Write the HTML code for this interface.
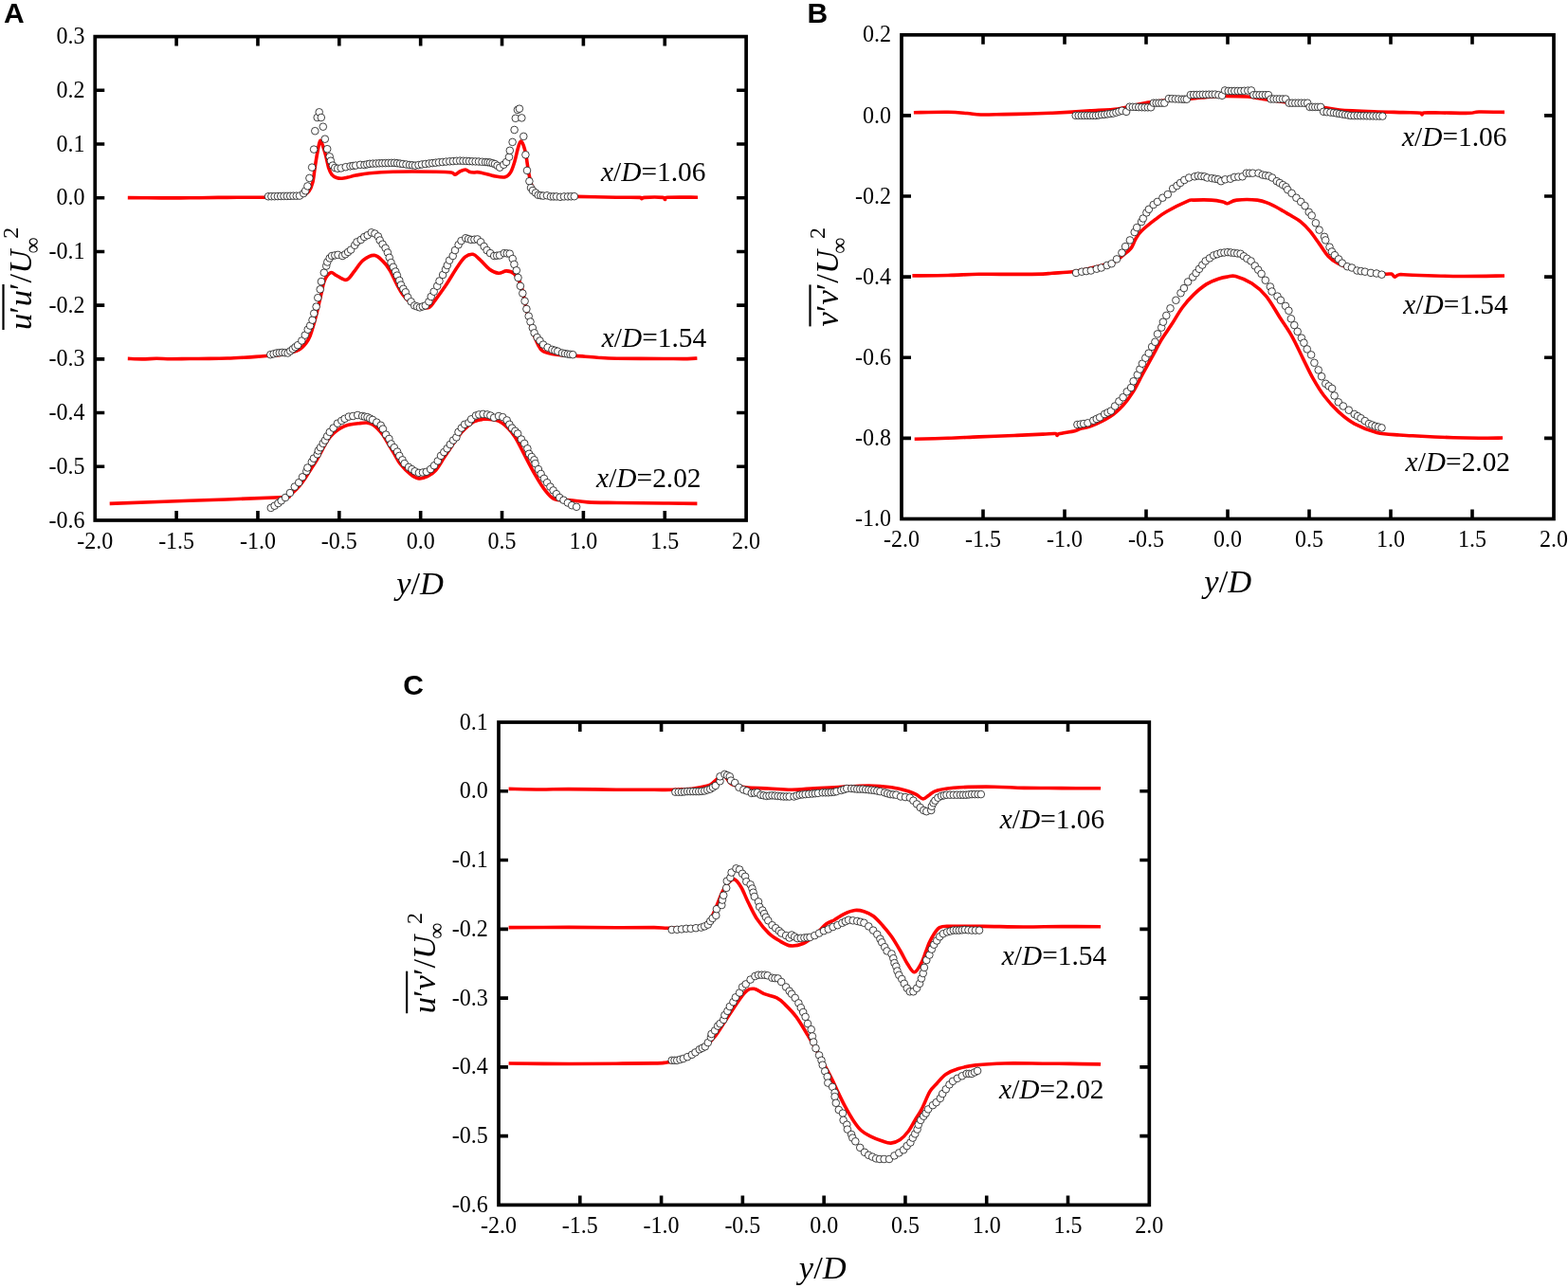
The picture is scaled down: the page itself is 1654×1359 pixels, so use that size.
<!DOCTYPE html>
<html><head><meta charset="utf-8"><title>Figure</title><style>
html,body{margin:0;padding:0;background:#fff;}
body{width:1654px;height:1359px;overflow:hidden;}
svg{display:block;}
circle{fill:#fff;stroke:#111;stroke-width:0.8;}
.tk{font-family:'Liberation Serif', 'Times New Roman', serif;font-size:24px;fill:#000;}
.ann{font-family:'Liberation Serif', 'Times New Roman', serif;font-size:29.4px;fill:#000;}
.lab{font-family:'Liberation Serif', 'Times New Roman', serif;font-size:34.5px;fill:#000;}
.sub{font-size:24px;}
.sup{font-size:24px;}
.let{font-family:'Liberation Sans', Arial, sans-serif;font-weight:bold;font-size:30px;fill:#000;}
</style></head><body>
<svg width="1654" height="1359" viewBox="0 0 1654 1359">
<rect x="0" y="0" width="1654" height="1359" fill="#fff"/>
<path d="M134.80,208.60 C140.67,208.65 159.13,208.87 170.00,208.90 C180.87,208.93 190.00,208.88 200.00,208.80 C210.00,208.72 221.67,208.48 230.00,208.40 C238.33,208.32 241.17,208.32 250.00,208.30 C258.83,208.28 273.83,208.35 283.00,208.30 C292.17,208.25 299.83,208.18 305.00,208.00 C310.17,207.82 311.50,207.57 314.00,207.20 C316.50,206.83 318.03,206.67 320.00,205.80 C321.97,204.93 324.15,204.23 325.80,202.00 C327.45,199.77 328.82,196.70 329.90,192.40 C330.98,188.10 331.50,181.33 332.30,176.20 C333.10,171.07 333.82,166.18 334.70,161.60 C335.58,157.02 336.65,150.05 337.60,148.70 C338.55,147.35 339.40,150.95 340.40,153.50 C341.40,156.05 342.52,159.95 343.60,164.00 C344.68,168.05 345.82,174.42 346.90,177.80 C347.98,181.18 348.75,182.68 350.10,184.30 C351.45,185.92 353.25,186.83 355.00,187.50 C356.75,188.17 358.60,188.37 360.60,188.30 C362.60,188.23 364.57,187.63 367.00,187.10 C369.43,186.57 371.42,185.83 375.20,185.10 C378.98,184.37 383.10,183.35 389.70,182.70 C396.30,182.05 403.12,181.45 414.80,181.20 C426.48,180.95 449.60,181.07 459.80,181.20 C470.00,181.33 472.62,181.52 476.00,182.00 C479.38,182.48 478.60,184.27 480.10,184.10 C481.60,183.93 483.18,181.85 485.00,181.00 C486.82,180.15 489.33,178.97 491.00,179.00 C492.67,179.03 493.50,180.70 495.00,181.20 C496.50,181.70 498.13,181.88 500.00,182.00 C501.87,182.12 502.47,181.23 506.20,181.90 C509.93,182.57 517.95,185.18 522.40,186.00 C526.85,186.82 530.20,187.48 532.90,186.80 C535.60,186.12 536.98,184.47 538.60,181.90 C540.22,179.33 541.25,175.85 542.60,171.40 C543.95,166.95 545.55,158.92 546.70,155.20 C547.85,151.48 548.57,149.37 549.50,149.10 C550.43,148.83 551.42,151.23 552.30,153.60 C553.18,155.97 553.98,158.98 554.80,163.30 C555.62,167.62 556.53,175.45 557.20,179.50 C557.87,183.55 558.12,184.77 558.80,187.60 C559.48,190.43 559.95,193.80 561.30,196.50 C562.65,199.20 564.62,202.05 566.90,203.80 C569.18,205.55 568.25,206.40 575.00,207.00 C581.75,207.60 594.90,207.20 607.40,207.40 C619.90,207.60 638.73,208.03 650.00,208.20 C661.27,208.37 670.50,208.13 675.00,208.40 C679.50,208.67 676.17,209.80 677.00,209.80 C677.83,209.80 676.33,208.63 680.00,208.40 C683.67,208.17 695.42,208.05 699.00,208.40 C702.58,208.75 700.67,210.52 701.50,210.50 C702.33,210.48 698.25,208.68 704.00,208.30 C709.75,207.92 730.67,208.22 736.00,208.20" fill="none" stroke="#ff0000" stroke-width="3.6" stroke-linejoin="round" stroke-linecap="butt"/>
<path d="M134.80,378.40 C137.33,378.48 144.97,378.92 150.00,378.90 C155.03,378.88 160.00,378.33 165.00,378.30 C170.00,378.27 174.17,378.67 180.00,378.70 C185.83,378.73 193.17,378.55 200.00,378.50 C206.83,378.45 214.33,378.48 221.00,378.40 C227.67,378.32 234.00,378.20 240.00,378.00 C246.00,377.80 252.00,377.47 257.00,377.20 C262.00,376.93 265.53,376.72 270.00,376.40 C274.47,376.08 279.88,375.57 283.80,375.30 C287.72,375.03 289.97,375.27 293.50,374.80 C297.03,374.33 301.27,373.48 305.00,372.50 C308.73,371.52 312.52,371.27 315.90,368.90 C319.28,366.53 322.95,362.22 325.30,358.30 C327.65,354.38 328.52,350.10 330.00,345.40 C331.48,340.70 332.82,335.60 334.20,330.10 C335.58,324.60 336.93,318.10 338.30,312.40 C339.67,306.70 340.63,300.02 342.40,295.90 C344.17,291.78 346.83,288.58 348.90,287.70 C350.97,286.82 352.05,289.33 354.80,290.60 C357.55,291.87 362.27,295.98 365.40,295.30 C368.53,294.62 370.67,289.93 373.60,286.50 C376.53,283.07 379.47,277.55 383.00,274.70 C386.53,271.85 391.27,269.20 394.80,269.40 C398.33,269.60 401.45,273.25 404.20,275.90 C406.95,278.55 408.95,281.37 411.30,285.30 C413.65,289.23 416.02,295.22 418.30,299.50 C420.58,303.78 422.72,307.83 425.00,311.00 C427.28,314.17 429.50,316.42 432.00,318.50 C434.50,320.58 437.67,322.45 440.00,323.50 C442.33,324.55 443.83,324.68 446.00,324.80 C448.17,324.92 450.87,325.48 453.00,324.20 C455.13,322.92 455.87,321.03 458.80,317.10 C461.73,313.17 466.67,306.48 470.60,300.60 C474.53,294.72 479.07,286.70 482.40,281.80 C485.73,276.90 487.85,273.45 490.60,271.20 C493.35,268.95 496.35,267.90 498.90,268.30 C501.45,268.70 502.97,270.95 505.90,273.60 C508.83,276.25 513.17,281.75 516.50,284.20 C519.83,286.65 522.95,288.02 525.90,288.30 C528.85,288.58 531.45,285.80 534.20,285.90 C536.95,286.00 539.85,286.45 542.40,288.90 C544.95,291.35 547.33,294.33 549.50,300.60 C551.67,306.87 553.43,318.65 555.40,326.50 C557.37,334.35 559.33,341.62 561.30,347.70 C563.27,353.78 565.25,359.17 567.20,363.00 C569.15,366.83 569.67,368.83 573.00,370.70 C576.33,372.57 581.50,373.42 587.20,374.20 C592.90,374.98 600.07,374.90 607.20,375.40 C614.33,375.90 622.73,376.73 630.00,377.20 C637.27,377.67 639.13,377.98 650.80,378.20 C662.47,378.42 687.63,378.43 700.00,378.50 C712.37,378.57 719.10,378.68 725.00,378.60 C730.90,378.52 733.67,378.10 735.40,378.00" fill="none" stroke="#ff0000" stroke-width="3.6" stroke-linejoin="round" stroke-linecap="butt"/>
<path d="M115.70,531.40 C129.75,530.88 169.97,529.40 200.00,528.30 C230.03,527.20 278.73,525.60 295.90,524.80 C313.07,524.00 300.82,524.38 303.00,523.50 C305.18,522.62 306.83,521.33 309.00,519.50 C311.17,517.67 313.83,515.00 316.00,512.50 C318.17,510.00 320.00,507.42 322.00,504.50 C324.00,501.58 326.00,498.17 328.00,495.00 C330.00,491.83 332.00,488.92 334.00,485.50 C336.00,482.08 338.00,478.08 340.00,474.50 C342.00,470.92 344.07,466.83 346.00,464.00 C347.93,461.17 349.60,459.42 351.60,457.50 C353.60,455.58 355.63,453.95 358.00,452.50 C360.37,451.05 362.33,449.77 365.80,448.80 C369.27,447.83 375.18,447.15 378.80,446.70 C382.42,446.25 385.13,445.88 387.50,446.10 C389.87,446.32 391.18,446.92 393.00,448.00 C394.82,449.08 396.57,450.77 398.40,452.60 C400.23,454.43 402.18,456.45 404.00,459.00 C405.82,461.55 407.30,464.57 409.30,467.90 C411.30,471.23 413.82,475.38 416.00,479.00 C418.18,482.62 419.53,486.02 422.40,489.60 C425.27,493.18 429.95,497.95 433.20,500.50 C436.45,503.05 438.95,504.53 441.90,504.90 C444.85,505.27 447.95,504.15 450.90,502.70 C453.85,501.25 456.70,499.47 459.60,496.20 C462.50,492.93 465.57,487.22 468.30,483.10 C471.03,478.98 473.47,475.30 476.00,471.50 C478.53,467.70 481.00,463.55 483.50,460.30 C486.00,457.05 488.27,454.55 491.00,452.00 C493.73,449.45 496.62,446.62 499.90,445.00 C503.18,443.38 506.53,442.48 510.70,442.30 C514.87,442.12 520.72,442.35 524.90,443.90 C529.08,445.45 532.72,448.68 535.80,451.60 C538.88,454.52 540.68,457.05 543.40,461.40 C546.12,465.75 548.83,471.53 552.10,477.70 C555.37,483.87 559.37,492.05 563.00,498.40 C566.63,504.75 570.28,511.10 573.90,515.80 C577.52,520.50 580.17,524.62 584.70,526.60 C589.23,528.58 595.22,527.15 601.10,527.70 C606.98,528.25 611.72,529.43 620.00,529.90 C628.28,530.37 637.47,530.32 650.80,530.50 C664.13,530.68 685.90,530.85 700.00,531.00 C714.10,531.15 729.50,531.33 735.40,531.40" fill="none" stroke="#ff0000" stroke-width="3.6" stroke-linejoin="round" stroke-linecap="butt"/>
<circle cx="283.0" cy="207.3" r="3.8"/>
<circle cx="286.3" cy="207.2" r="3.8"/>
<circle cx="289.6" cy="207.2" r="3.8"/>
<circle cx="292.9" cy="207.1" r="3.8"/>
<circle cx="296.2" cy="207.0" r="3.8"/>
<circle cx="299.5" cy="206.9" r="3.8"/>
<circle cx="302.8" cy="206.9" r="3.8"/>
<circle cx="306.1" cy="206.8" r="3.8"/>
<circle cx="309.4" cy="206.7" r="3.8"/>
<circle cx="312.7" cy="206.7" r="3.8"/>
<circle cx="316.0" cy="206.6" r="3.8"/>
<circle cx="320.2" cy="204.1" r="3.8"/>
<circle cx="322.2" cy="201.3" r="3.8"/>
<circle cx="324.4" cy="196.4" r="3.8"/>
<circle cx="326.4" cy="187.9" r="3.8"/>
<circle cx="329.1" cy="176.6" r="3.8"/>
<circle cx="331.1" cy="157.6" r="3.8"/>
<circle cx="332.3" cy="138.2" r="3.8"/>
<circle cx="334.7" cy="124.0" r="3.8"/>
<circle cx="336.7" cy="118.3" r="3.8"/>
<circle cx="338.8" cy="124.0" r="3.8"/>
<circle cx="340.8" cy="133.7" r="3.8"/>
<circle cx="342.8" cy="146.7" r="3.8"/>
<circle cx="345.2" cy="157.2" r="3.8"/>
<circle cx="347.7" cy="165.3" r="3.8"/>
<circle cx="348.9" cy="169.7" r="3.8"/>
<circle cx="350.9" cy="174.6" r="3.8"/>
<circle cx="353.3" cy="177.0" r="3.8"/>
<circle cx="356.2" cy="177.8" r="3.8"/>
<circle cx="359.8" cy="177.4" r="3.8"/>
<circle cx="364.7" cy="176.2" r="3.8"/>
<circle cx="369.5" cy="175.4" r="3.8"/>
<circle cx="372.4" cy="175.0" r="3.8"/>
<circle cx="375.2" cy="174.6" r="3.8"/>
<circle cx="380.0" cy="173.8" r="3.8"/>
<circle cx="384.4" cy="174.0" r="3.8"/>
<circle cx="387.2" cy="173.4" r="3.8"/>
<circle cx="390.0" cy="172.8" r="3.8"/>
<circle cx="393.3" cy="172.6" r="3.8"/>
<circle cx="396.7" cy="172.5" r="3.8"/>
<circle cx="400.0" cy="172.3" r="3.8"/>
<circle cx="403.2" cy="172.2" r="3.8"/>
<circle cx="406.4" cy="172.1" r="3.8"/>
<circle cx="409.6" cy="172.0" r="3.8"/>
<circle cx="412.8" cy="171.9" r="3.8"/>
<circle cx="416.0" cy="171.8" r="3.8"/>
<circle cx="419.0" cy="172.2" r="3.8"/>
<circle cx="422.0" cy="172.6" r="3.8"/>
<circle cx="425.0" cy="173.0" r="3.8"/>
<circle cx="428.5" cy="173.5" r="3.8"/>
<circle cx="432.0" cy="174.0" r="3.8"/>
<circle cx="435.0" cy="174.3" r="3.8"/>
<circle cx="438.0" cy="174.7" r="3.8"/>
<circle cx="441.5" cy="174.1" r="3.8"/>
<circle cx="445.0" cy="173.5" r="3.8"/>
<circle cx="448.8" cy="173.0" r="3.8"/>
<circle cx="452.6" cy="172.5" r="3.8"/>
<circle cx="456.1" cy="172.1" r="3.8"/>
<circle cx="459.5" cy="171.7" r="3.8"/>
<circle cx="463.0" cy="171.3" r="3.8"/>
<circle cx="466.8" cy="171.0" r="3.8"/>
<circle cx="470.5" cy="170.6" r="3.8"/>
<circle cx="474.3" cy="170.3" r="3.8"/>
<circle cx="477.9" cy="170.1" r="3.8"/>
<circle cx="481.6" cy="169.8" r="3.8"/>
<circle cx="485.2" cy="169.6" r="3.8"/>
<circle cx="488.5" cy="169.8" r="3.8"/>
<circle cx="491.8" cy="169.9" r="3.8"/>
<circle cx="495.0" cy="170.1" r="3.8"/>
<circle cx="498.3" cy="170.3" r="3.8"/>
<circle cx="501.6" cy="170.4" r="3.8"/>
<circle cx="505.0" cy="170.5" r="3.8"/>
<circle cx="508.5" cy="170.8" r="3.8"/>
<circle cx="512.0" cy="171.0" r="3.8"/>
<circle cx="514.5" cy="171.2" r="3.8"/>
<circle cx="517.0" cy="171.5" r="3.8"/>
<circle cx="519.5" cy="172.2" r="3.8"/>
<circle cx="522.0" cy="173.0" r="3.8"/>
<circle cx="524.6" cy="174.8" r="3.8"/>
<circle cx="527.2" cy="176.7" r="3.8"/>
<circle cx="531.3" cy="173.8" r="3.8"/>
<circle cx="534.1" cy="171.0" r="3.8"/>
<circle cx="537.0" cy="165.7" r="3.8"/>
<circle cx="537.8" cy="158.8" r="3.8"/>
<circle cx="540.6" cy="149.9" r="3.8"/>
<circle cx="542.6" cy="137.0" r="3.8"/>
<circle cx="543.8" cy="124.8" r="3.8"/>
<circle cx="545.9" cy="115.9" r="3.8"/>
<circle cx="547.9" cy="114.7" r="3.8"/>
<circle cx="550.3" cy="124.4" r="3.8"/>
<circle cx="552.3" cy="143.9" r="3.8"/>
<circle cx="554.4" cy="163.3" r="3.8"/>
<circle cx="556.0" cy="179.9" r="3.8"/>
<circle cx="558.4" cy="191.2" r="3.8"/>
<circle cx="560.0" cy="198.1" r="3.8"/>
<circle cx="562.0" cy="201.0" r="3.8"/>
<circle cx="565.0" cy="203.5" r="3.8"/>
<circle cx="567.7" cy="205.8" r="3.8"/>
<circle cx="570.4" cy="206.2" r="3.8"/>
<circle cx="573.0" cy="206.6" r="3.8"/>
<circle cx="577.0" cy="206.3" r="3.8"/>
<circle cx="581.0" cy="207.4" r="3.8"/>
<circle cx="584.0" cy="207.4" r="3.8"/>
<circle cx="587.0" cy="207.4" r="3.8"/>
<circle cx="591.0" cy="207.8" r="3.8"/>
<circle cx="595.0" cy="207.4" r="3.8"/>
<circle cx="599.0" cy="207.4" r="3.8"/>
<circle cx="602.4" cy="207.3" r="3.8"/>
<circle cx="605.8" cy="207.2" r="3.8"/>
<circle cx="285.3" cy="374.2" r="3.8"/>
<circle cx="288.6" cy="373.4" r="3.8"/>
<circle cx="291.8" cy="372.5" r="3.8"/>
<circle cx="294.8" cy="372.2" r="3.8"/>
<circle cx="297.7" cy="371.9" r="3.8"/>
<circle cx="300.6" cy="372.2" r="3.8"/>
<circle cx="303.6" cy="372.5" r="3.8"/>
<circle cx="306.2" cy="370.4" r="3.8"/>
<circle cx="308.9" cy="368.3" r="3.8"/>
<circle cx="311.5" cy="366.2" r="3.8"/>
<circle cx="314.1" cy="364.2" r="3.8"/>
<circle cx="318.3" cy="359.5" r="3.8"/>
<circle cx="321.8" cy="353.6" r="3.8"/>
<circle cx="324.7" cy="347.7" r="3.8"/>
<circle cx="327.1" cy="343.6" r="3.8"/>
<circle cx="329.5" cy="337.7" r="3.8"/>
<circle cx="331.2" cy="330.7" r="3.8"/>
<circle cx="333.6" cy="323.6" r="3.8"/>
<circle cx="335.3" cy="314.2" r="3.8"/>
<circle cx="337.7" cy="305.3" r="3.8"/>
<circle cx="338.9" cy="297.1" r="3.8"/>
<circle cx="341.8" cy="287.7" r="3.8"/>
<circle cx="344.2" cy="280.6" r="3.8"/>
<circle cx="345.3" cy="276.5" r="3.8"/>
<circle cx="347.7" cy="272.4" r="3.8"/>
<circle cx="350.1" cy="270.0" r="3.8"/>
<circle cx="353.3" cy="269.4" r="3.8"/>
<circle cx="356.5" cy="268.9" r="3.8"/>
<circle cx="361.2" cy="270.0" r="3.8"/>
<circle cx="364.2" cy="268.3" r="3.8"/>
<circle cx="367.1" cy="266.0" r="3.8"/>
<circle cx="370.1" cy="263.6" r="3.8"/>
<circle cx="374.2" cy="258.8" r="3.8"/>
<circle cx="376.5" cy="255.3" r="3.8"/>
<circle cx="380.7" cy="253.0" r="3.8"/>
<circle cx="384.2" cy="250.0" r="3.8"/>
<circle cx="387.7" cy="248.2" r="3.8"/>
<circle cx="391.8" cy="245.3" r="3.8"/>
<circle cx="395.4" cy="246.5" r="3.8"/>
<circle cx="398.9" cy="249.4" r="3.8"/>
<circle cx="400.7" cy="253.5" r="3.8"/>
<circle cx="403.6" cy="257.7" r="3.8"/>
<circle cx="406.6" cy="261.8" r="3.8"/>
<circle cx="408.9" cy="266.5" r="3.8"/>
<circle cx="410.7" cy="271.8" r="3.8"/>
<circle cx="412.5" cy="277.1" r="3.8"/>
<circle cx="414.8" cy="281.8" r="3.8"/>
<circle cx="417.2" cy="286.5" r="3.8"/>
<circle cx="418.9" cy="290.6" r="3.8"/>
<circle cx="421.3" cy="295.9" r="3.8"/>
<circle cx="423.0" cy="300.6" r="3.8"/>
<circle cx="425.4" cy="304.8" r="3.8"/>
<circle cx="427.8" cy="308.3" r="3.8"/>
<circle cx="430.1" cy="313.6" r="3.8"/>
<circle cx="433.6" cy="318.3" r="3.8"/>
<circle cx="437.2" cy="322.4" r="3.8"/>
<circle cx="440.0" cy="323.4" r="3.8"/>
<circle cx="442.9" cy="324.4" r="3.8"/>
<circle cx="445.9" cy="323.4" r="3.8"/>
<circle cx="448.8" cy="322.4" r="3.8"/>
<circle cx="452.4" cy="318.3" r="3.8"/>
<circle cx="454.7" cy="313.0" r="3.8"/>
<circle cx="457.7" cy="307.7" r="3.8"/>
<circle cx="461.2" cy="301.8" r="3.8"/>
<circle cx="463.5" cy="296.5" r="3.8"/>
<circle cx="467.1" cy="290.0" r="3.8"/>
<circle cx="470.0" cy="284.2" r="3.8"/>
<circle cx="471.8" cy="280.0" r="3.8"/>
<circle cx="474.1" cy="274.7" r="3.8"/>
<circle cx="477.7" cy="270.0" r="3.8"/>
<circle cx="480.0" cy="264.1" r="3.8"/>
<circle cx="483.6" cy="258.3" r="3.8"/>
<circle cx="486.5" cy="254.1" r="3.8"/>
<circle cx="491.2" cy="251.2" r="3.8"/>
<circle cx="494.1" cy="252.1" r="3.8"/>
<circle cx="497.1" cy="253.0" r="3.8"/>
<circle cx="500.4" cy="252.7" r="3.8"/>
<circle cx="503.6" cy="252.4" r="3.8"/>
<circle cx="507.1" cy="255.3" r="3.8"/>
<circle cx="510.6" cy="260.0" r="3.8"/>
<circle cx="513.6" cy="264.1" r="3.8"/>
<circle cx="517.1" cy="267.1" r="3.8"/>
<circle cx="521.2" cy="270.0" r="3.8"/>
<circle cx="524.2" cy="269.7" r="3.8"/>
<circle cx="527.1" cy="269.4" r="3.8"/>
<circle cx="531.8" cy="267.1" r="3.8"/>
<circle cx="534.8" cy="267.4" r="3.8"/>
<circle cx="537.7" cy="267.7" r="3.8"/>
<circle cx="540.7" cy="273.0" r="3.8"/>
<circle cx="542.4" cy="278.9" r="3.8"/>
<circle cx="544.8" cy="285.3" r="3.8"/>
<circle cx="546.5" cy="293.0" r="3.8"/>
<circle cx="548.9" cy="301.8" r="3.8"/>
<circle cx="551.3" cy="309.5" r="3.8"/>
<circle cx="553.6" cy="317.7" r="3.8"/>
<circle cx="555.4" cy="326.0" r="3.8"/>
<circle cx="557.7" cy="333.6" r="3.8"/>
<circle cx="559.5" cy="339.5" r="3.8"/>
<circle cx="561.8" cy="346.0" r="3.8"/>
<circle cx="563.6" cy="351.3" r="3.8"/>
<circle cx="566.6" cy="356.0" r="3.8"/>
<circle cx="569.5" cy="359.5" r="3.8"/>
<circle cx="573.0" cy="363.6" r="3.8"/>
<circle cx="577.7" cy="366.6" r="3.8"/>
<circle cx="582.5" cy="368.9" r="3.8"/>
<circle cx="585.4" cy="369.8" r="3.8"/>
<circle cx="588.3" cy="370.7" r="3.8"/>
<circle cx="593.0" cy="372.5" r="3.8"/>
<circle cx="596.0" cy="373.1" r="3.8"/>
<circle cx="598.9" cy="373.6" r="3.8"/>
<circle cx="601.5" cy="373.9" r="3.8"/>
<circle cx="604.2" cy="374.2" r="3.8"/>
<circle cx="285.8" cy="535.9" r="3.8"/>
<circle cx="289.6" cy="533.7" r="3.8"/>
<circle cx="293.4" cy="531.0" r="3.8"/>
<circle cx="296.7" cy="528.3" r="3.8"/>
<circle cx="301.0" cy="525.0" r="3.8"/>
<circle cx="305.9" cy="520.1" r="3.8"/>
<circle cx="310.8" cy="513.6" r="3.8"/>
<circle cx="315.2" cy="509.2" r="3.8"/>
<circle cx="319.0" cy="503.3" r="3.8"/>
<circle cx="323.3" cy="497.3" r="3.8"/>
<circle cx="324.4" cy="493.5" r="3.8"/>
<circle cx="328.8" cy="487.5" r="3.8"/>
<circle cx="330.9" cy="483.7" r="3.8"/>
<circle cx="334.8" cy="479.3" r="3.8"/>
<circle cx="335.8" cy="475.5" r="3.8"/>
<circle cx="338.0" cy="472.2" r="3.8"/>
<circle cx="340.7" cy="467.9" r="3.8"/>
<circle cx="342.9" cy="464.6" r="3.8"/>
<circle cx="345.1" cy="460.3" r="3.8"/>
<circle cx="347.8" cy="455.9" r="3.8"/>
<circle cx="351.6" cy="451.6" r="3.8"/>
<circle cx="356.0" cy="446.7" r="3.8"/>
<circle cx="360.3" cy="443.9" r="3.8"/>
<circle cx="363.6" cy="441.8" r="3.8"/>
<circle cx="367.9" cy="439.6" r="3.8"/>
<circle cx="372.3" cy="439.0" r="3.8"/>
<circle cx="377.2" cy="438.0" r="3.8"/>
<circle cx="382.1" cy="439.0" r="3.8"/>
<circle cx="384.8" cy="439.6" r="3.8"/>
<circle cx="387.5" cy="440.1" r="3.8"/>
<circle cx="390.2" cy="441.5" r="3.8"/>
<circle cx="393.0" cy="442.9" r="3.8"/>
<circle cx="397.3" cy="445.6" r="3.8"/>
<circle cx="401.7" cy="448.8" r="3.8"/>
<circle cx="403.9" cy="452.6" r="3.8"/>
<circle cx="407.1" cy="458.6" r="3.8"/>
<circle cx="410.4" cy="463.0" r="3.8"/>
<circle cx="412.6" cy="468.4" r="3.8"/>
<circle cx="415.8" cy="472.2" r="3.8"/>
<circle cx="419.1" cy="476.6" r="3.8"/>
<circle cx="421.3" cy="480.9" r="3.8"/>
<circle cx="424.5" cy="485.3" r="3.8"/>
<circle cx="426.7" cy="489.1" r="3.8"/>
<circle cx="431.1" cy="492.9" r="3.8"/>
<circle cx="434.4" cy="495.1" r="3.8"/>
<circle cx="437.6" cy="497.3" r="3.8"/>
<circle cx="441.9" cy="498.9" r="3.8"/>
<circle cx="446.0" cy="498.5" r="3.8"/>
<circle cx="449.8" cy="497.8" r="3.8"/>
<circle cx="454.1" cy="495.1" r="3.8"/>
<circle cx="458.0" cy="491.3" r="3.8"/>
<circle cx="461.8" cy="486.4" r="3.8"/>
<circle cx="465.0" cy="480.9" r="3.8"/>
<circle cx="468.3" cy="477.1" r="3.8"/>
<circle cx="471.6" cy="473.3" r="3.8"/>
<circle cx="474.8" cy="469.0" r="3.8"/>
<circle cx="478.1" cy="464.6" r="3.8"/>
<circle cx="481.4" cy="461.4" r="3.8"/>
<circle cx="483.5" cy="455.9" r="3.8"/>
<circle cx="486.8" cy="451.6" r="3.8"/>
<circle cx="490.1" cy="447.8" r="3.8"/>
<circle cx="494.4" cy="446.1" r="3.8"/>
<circle cx="497.1" cy="442.3" r="3.8"/>
<circle cx="502.0" cy="438.5" r="3.8"/>
<circle cx="505.3" cy="437.4" r="3.8"/>
<circle cx="509.6" cy="436.9" r="3.8"/>
<circle cx="514.0" cy="437.4" r="3.8"/>
<circle cx="517.3" cy="438.5" r="3.8"/>
<circle cx="521.1" cy="440.7" r="3.8"/>
<circle cx="526.0" cy="439.0" r="3.8"/>
<circle cx="530.3" cy="440.1" r="3.8"/>
<circle cx="534.7" cy="443.4" r="3.8"/>
<circle cx="537.4" cy="447.8" r="3.8"/>
<circle cx="540.1" cy="451.6" r="3.8"/>
<circle cx="543.4" cy="454.8" r="3.8"/>
<circle cx="546.1" cy="457.5" r="3.8"/>
<circle cx="549.9" cy="463.5" r="3.8"/>
<circle cx="553.2" cy="467.9" r="3.8"/>
<circle cx="556.4" cy="473.3" r="3.8"/>
<circle cx="558.1" cy="478.8" r="3.8"/>
<circle cx="560.8" cy="482.0" r="3.8"/>
<circle cx="563.5" cy="485.3" r="3.8"/>
<circle cx="564.6" cy="489.1" r="3.8"/>
<circle cx="567.9" cy="495.1" r="3.8"/>
<circle cx="570.6" cy="500.0" r="3.8"/>
<circle cx="573.9" cy="504.9" r="3.8"/>
<circle cx="577.1" cy="509.2" r="3.8"/>
<circle cx="580.4" cy="513.6" r="3.8"/>
<circle cx="583.6" cy="517.4" r="3.8"/>
<circle cx="586.9" cy="521.2" r="3.8"/>
<circle cx="590.2" cy="525.0" r="3.8"/>
<circle cx="594.5" cy="527.7" r="3.8"/>
<circle cx="598.9" cy="530.5" r="3.8"/>
<circle cx="603.2" cy="533.2" r="3.8"/>
<circle cx="608.1" cy="534.8" r="3.8"/>
<path d="M186.11,549.00V539.00M186.11,38.60V48.60M271.96,549.00V539.00M271.96,38.60V48.60M357.81,549.00V539.00M357.81,38.60V48.60M443.67,549.00V539.00M443.67,38.60V48.60M529.52,549.00V539.00M529.52,38.60V48.60M615.38,549.00V539.00M615.38,38.60V48.60M701.24,549.00V539.00M701.24,38.60V48.60M100.25,95.31H110.25M787.10,95.31H777.10M100.25,152.02H110.25M787.10,152.02H777.10M100.25,208.73H110.25M787.10,208.73H777.10M100.25,265.44H110.25M787.10,265.44H777.10M100.25,322.15H110.25M787.10,322.15H777.10M100.25,378.86H110.25M787.10,378.86H777.10M100.25,435.57H110.25M787.10,435.57H777.10M100.25,492.28H110.25M787.10,492.28H777.10" stroke="#000" stroke-width="3.6" fill="none"/>
<rect x="100.25" y="38.60" width="686.85" height="510.40" fill="none" stroke="#000" stroke-width="3.7"/>
<text transform="translate(100.25,578.60) scale(1,1.06)" class="tk" text-anchor="middle">-2.0</text>
<text transform="translate(186.11,578.60) scale(1,1.06)" class="tk" text-anchor="middle">-1.5</text>
<text transform="translate(271.96,578.60) scale(1,1.06)" class="tk" text-anchor="middle">-1.0</text>
<text transform="translate(357.81,578.60) scale(1,1.06)" class="tk" text-anchor="middle">-0.5</text>
<text transform="translate(443.67,578.60) scale(1,1.06)" class="tk" text-anchor="middle">0.0</text>
<text transform="translate(529.52,578.60) scale(1,1.06)" class="tk" text-anchor="middle">0.5</text>
<text transform="translate(615.38,578.60) scale(1,1.06)" class="tk" text-anchor="middle">1.0</text>
<text transform="translate(701.24,578.60) scale(1,1.06)" class="tk" text-anchor="middle">1.5</text>
<text transform="translate(787.09,578.60) scale(1,1.06)" class="tk" text-anchor="middle">2.0</text>
<text transform="translate(89.60,46.20) scale(1,1.06)" class="tk" text-anchor="end">0.3</text>
<text transform="translate(89.60,102.91) scale(1,1.06)" class="tk" text-anchor="end">0.2</text>
<text transform="translate(89.60,159.62) scale(1,1.06)" class="tk" text-anchor="end">0.1</text>
<text transform="translate(89.60,216.33) scale(1,1.06)" class="tk" text-anchor="end">0.0</text>
<text transform="translate(89.60,273.04) scale(1,1.06)" class="tk" text-anchor="end">-0.1</text>
<text transform="translate(89.60,329.75) scale(1,1.06)" class="tk" text-anchor="end">-0.2</text>
<text transform="translate(89.60,386.46) scale(1,1.06)" class="tk" text-anchor="end">-0.3</text>
<text transform="translate(89.60,443.17) scale(1,1.06)" class="tk" text-anchor="end">-0.4</text>
<text transform="translate(89.60,499.88) scale(1,1.06)" class="tk" text-anchor="end">-0.5</text>
<text transform="translate(89.60,556.59) scale(1,1.06)" class="tk" text-anchor="end">-0.6</text>
<text transform="translate(634.0,190.8) scale(1,1.0)" class="ann"><tspan font-style="italic">x</tspan>/<tspan font-style="italic">D</tspan>=1.06</text>
<text transform="translate(634.7,365.9) scale(1,1.0)" class="ann"><tspan font-style="italic">x</tspan>/<tspan font-style="italic">D</tspan>=1.54</text>
<text transform="translate(629.1,513.6) scale(1,1.0)" class="ann"><tspan font-style="italic">x</tspan>/<tspan font-style="italic">D</tspan>=2.02</text>
<text x="418.2" y="626.8" class="lab"><tspan font-style="italic">y</tspan>/<tspan font-style="italic">D</tspan></text>
<text transform="translate(4.0,24.0)" class="let">A</text>
<g transform="translate(33.0,348.0) rotate(-90)"><text x="0" y="0" class="lab"><tspan font-style="italic">u</tspan>&#8242;<tspan font-style="italic">u</tspan>&#8242;/<tspan font-style="italic">U</tspan><tspan class="sub" dy="9" dx="-3.7">&#8734;</tspan><tspan class="sup" dy="-23" dx="-1.3">2</tspan></text><line x1="0" y1="-29.5" x2="48.0" y2="-29.5" stroke="#000" stroke-width="2.2"/></g>
<path d="M963.90,118.70 C969.92,118.63 990.65,118.17 1000.00,118.30 C1009.35,118.43 1014.23,119.05 1020.00,119.50 C1025.77,119.95 1028.13,120.82 1034.60,121.00 C1041.07,121.18 1050.13,120.77 1058.80,120.60 C1067.47,120.43 1078.07,120.23 1086.60,120.00 C1095.13,119.77 1102.53,119.52 1110.00,119.20 C1117.47,118.88 1124.73,118.48 1131.40,118.10 C1138.07,117.72 1142.08,117.42 1150.00,116.90 C1157.92,116.38 1171.40,115.90 1178.90,115.00 C1186.40,114.10 1189.65,112.65 1195.00,111.50 C1200.35,110.35 1205.17,109.02 1211.00,108.10 C1216.83,107.18 1222.52,106.67 1230.00,106.00 C1237.48,105.33 1247.57,104.77 1255.90,104.10 C1264.23,103.43 1273.77,102.45 1280.00,102.00 C1286.23,101.55 1287.25,101.40 1293.30,101.40 C1299.35,101.40 1309.85,101.48 1316.30,102.00 C1322.75,102.52 1326.38,103.67 1332.00,104.50 C1337.62,105.33 1343.67,106.17 1350.00,107.00 C1356.33,107.83 1362.12,108.42 1370.00,109.50 C1377.88,110.58 1390.13,112.42 1397.30,113.50 C1404.47,114.58 1404.33,115.28 1413.00,116.00 C1421.67,116.72 1438.13,117.37 1449.30,117.80 C1460.47,118.23 1471.72,118.37 1480.00,118.60 C1488.28,118.83 1495.67,118.80 1499.00,119.20 C1502.33,119.60 1499.50,121.03 1500.00,121.00 C1500.50,120.97 1498.67,119.33 1502.00,119.00 C1505.33,118.67 1512.00,118.95 1520.00,119.00 C1528.00,119.05 1543.33,119.47 1550.00,119.30 C1556.67,119.13 1553.83,118.15 1560.00,118.00 C1566.17,117.85 1582.50,118.33 1587.00,118.40" fill="none" stroke="#ff0000" stroke-width="3.6" stroke-linejoin="round" stroke-linecap="butt"/>
<path d="M962.40,290.90 C968.67,290.83 988.28,290.77 1000.00,290.50 C1011.72,290.23 1021.03,289.48 1032.70,289.30 C1044.37,289.12 1058.78,289.43 1070.00,289.40 C1081.22,289.37 1093.33,289.30 1100.00,289.10 C1106.67,288.90 1104.77,288.60 1110.00,288.20 C1115.23,287.80 1124.73,287.57 1131.40,286.70 C1138.07,285.83 1144.40,284.20 1150.00,283.00 C1155.60,281.80 1160.83,280.60 1165.00,279.50 C1169.17,278.40 1171.67,278.15 1175.00,276.40 C1178.33,274.65 1181.98,271.42 1185.00,269.00 C1188.02,266.58 1190.93,264.73 1193.10,261.90 C1195.27,259.07 1196.18,255.02 1198.00,252.00 C1199.82,248.98 1200.58,247.18 1204.00,243.80 C1207.42,240.42 1214.07,235.13 1218.50,231.70 C1222.93,228.27 1224.95,226.43 1230.60,223.20 C1236.25,219.97 1247.57,214.32 1252.40,212.30 C1257.23,210.28 1255.37,211.30 1259.60,211.10 C1263.83,210.90 1272.73,210.80 1277.80,211.10 C1282.87,211.40 1287.17,212.30 1290.00,212.90 C1292.83,213.50 1292.38,215.00 1294.80,214.70 C1297.22,214.40 1299.25,211.70 1304.50,211.10 C1309.75,210.50 1320.65,210.50 1326.30,211.10 C1331.95,211.70 1334.37,213.08 1338.40,214.70 C1342.43,216.32 1346.47,218.58 1350.50,220.80 C1354.53,223.02 1358.98,225.78 1362.60,228.00 C1366.22,230.22 1368.98,231.47 1372.20,234.10 C1375.42,236.73 1378.67,239.97 1381.90,243.80 C1385.13,247.63 1388.38,252.67 1391.60,257.10 C1394.82,261.53 1397.98,266.98 1401.20,270.40 C1404.42,273.82 1406.93,275.42 1410.90,277.60 C1414.87,279.78 1420.15,281.93 1425.00,283.50 C1429.85,285.07 1434.08,286.07 1440.00,287.00 C1445.92,287.93 1455.88,288.75 1460.50,289.10 C1465.12,289.45 1465.88,288.60 1467.70,289.10 C1469.52,289.60 1469.98,292.00 1471.40,292.10 C1472.82,292.20 1473.10,290.00 1476.20,289.70 C1479.30,289.40 1479.37,290.00 1490.00,290.30 C1500.63,290.60 1523.83,291.38 1540.00,291.50 C1556.17,291.62 1579.17,291.08 1587.00,291.00" fill="none" stroke="#ff0000" stroke-width="3.6" stroke-linejoin="round" stroke-linecap="butt"/>
<path d="M964.70,463.20 C970.58,463.05 988.67,462.68 1000.00,462.30 C1011.33,461.92 1021.03,461.37 1032.70,460.90 C1044.37,460.43 1058.78,459.97 1070.00,459.50 C1081.22,459.03 1092.83,458.43 1100.00,458.10 C1107.17,457.77 1110.50,457.27 1113.00,457.50 C1115.50,457.73 1114.33,459.45 1115.00,459.50 C1115.67,459.55 1113.87,458.60 1117.00,457.80 C1120.13,457.00 1130.07,455.60 1133.80,454.70 C1137.53,453.80 1136.57,453.23 1139.40,452.40 C1142.23,451.57 1145.52,451.85 1150.80,449.70 C1156.08,447.55 1165.47,443.17 1171.10,439.50 C1176.73,435.83 1180.65,431.93 1184.60,427.70 C1188.55,423.47 1191.42,419.47 1194.80,414.10 C1198.18,408.73 1201.52,401.70 1204.90,395.50 C1208.28,389.30 1211.72,383.10 1215.10,376.90 C1218.48,370.70 1221.82,363.93 1225.20,358.30 C1228.58,352.67 1231.73,348.73 1235.40,343.10 C1239.07,337.47 1243.25,329.87 1247.20,324.50 C1251.15,319.13 1254.87,315.00 1259.10,310.90 C1263.33,306.80 1268.10,302.72 1272.60,299.90 C1277.10,297.08 1282.37,295.32 1286.10,294.00 C1289.83,292.68 1292.10,292.42 1295.00,292.00 C1297.90,291.58 1299.25,290.32 1303.50,291.50 C1307.75,292.68 1315.13,295.58 1320.50,299.10 C1325.87,302.62 1330.63,306.40 1335.70,312.60 C1340.77,318.80 1346.38,329.25 1350.90,336.30 C1355.42,343.35 1358.85,347.85 1362.80,354.90 C1366.75,361.95 1370.93,371.27 1374.60,378.60 C1378.27,385.93 1381.13,392.42 1384.80,398.90 C1388.47,405.38 1392.10,411.58 1396.60,417.50 C1401.10,423.42 1406.45,429.47 1411.80,434.40 C1417.15,439.33 1421.93,443.43 1428.70,447.10 C1435.47,450.77 1444.50,454.42 1452.40,456.40 C1460.30,458.38 1469.83,458.43 1476.10,459.00 C1482.37,459.57 1480.52,459.33 1490.00,459.80 C1499.48,460.27 1521.33,461.38 1533.00,461.80 C1544.67,462.22 1551.32,462.27 1560.00,462.30 C1568.68,462.33 1580.92,462.05 1585.10,462.00" fill="none" stroke="#ff0000" stroke-width="3.6" stroke-linejoin="round" stroke-linecap="butt"/>
<circle cx="1134.7" cy="121.9" r="3.8"/>
<circle cx="1137.7" cy="121.9" r="3.8"/>
<circle cx="1140.8" cy="121.9" r="3.8"/>
<circle cx="1143.8" cy="121.9" r="3.8"/>
<circle cx="1146.9" cy="121.9" r="3.8"/>
<circle cx="1149.9" cy="121.9" r="3.8"/>
<circle cx="1153.0" cy="121.9" r="3.8"/>
<circle cx="1156.0" cy="121.9" r="3.8"/>
<circle cx="1159.0" cy="121.5" r="3.8"/>
<circle cx="1162.1" cy="121.1" r="3.8"/>
<circle cx="1165.2" cy="120.8" r="3.8"/>
<circle cx="1168.2" cy="120.4" r="3.8"/>
<circle cx="1171.2" cy="120.0" r="3.8"/>
<circle cx="1174.3" cy="119.6" r="3.8"/>
<circle cx="1177.4" cy="118.7" r="3.8"/>
<circle cx="1180.4" cy="117.7" r="3.8"/>
<circle cx="1183.5" cy="116.8" r="3.8"/>
<circle cx="1188.1" cy="117.9" r="3.8"/>
<circle cx="1191.6" cy="112.7" r="3.8"/>
<circle cx="1194.8" cy="112.8" r="3.8"/>
<circle cx="1198.0" cy="112.9" r="3.8"/>
<circle cx="1201.2" cy="113.1" r="3.8"/>
<circle cx="1204.4" cy="113.2" r="3.8"/>
<circle cx="1207.6" cy="113.3" r="3.8"/>
<circle cx="1210.8" cy="113.3" r="3.8"/>
<circle cx="1214.0" cy="113.3" r="3.8"/>
<circle cx="1216.8" cy="108.7" r="3.8"/>
<circle cx="1219.7" cy="108.7" r="3.8"/>
<circle cx="1222.5" cy="108.7" r="3.8"/>
<circle cx="1225.4" cy="108.7" r="3.8"/>
<circle cx="1228.3" cy="108.7" r="3.8"/>
<circle cx="1232.9" cy="104.1" r="3.8"/>
<circle cx="1236.4" cy="104.2" r="3.8"/>
<circle cx="1239.8" cy="104.4" r="3.8"/>
<circle cx="1243.2" cy="104.5" r="3.8"/>
<circle cx="1246.7" cy="104.7" r="3.8"/>
<circle cx="1249.3" cy="104.7" r="3.8"/>
<circle cx="1251.9" cy="104.7" r="3.8"/>
<circle cx="1255.9" cy="100.1" r="3.8"/>
<circle cx="1259.1" cy="100.0" r="3.8"/>
<circle cx="1262.4" cy="100.0" r="3.8"/>
<circle cx="1265.6" cy="99.9" r="3.8"/>
<circle cx="1268.8" cy="99.8" r="3.8"/>
<circle cx="1272.1" cy="99.8" r="3.8"/>
<circle cx="1275.3" cy="99.7" r="3.8"/>
<circle cx="1278.6" cy="99.7" r="3.8"/>
<circle cx="1281.8" cy="99.6" r="3.8"/>
<circle cx="1285.4" cy="100.2" r="3.8"/>
<circle cx="1289.1" cy="100.8" r="3.8"/>
<circle cx="1292.1" cy="95.4" r="3.8"/>
<circle cx="1295.7" cy="96.0" r="3.8"/>
<circle cx="1299.0" cy="96.0" r="3.8"/>
<circle cx="1302.3" cy="96.0" r="3.8"/>
<circle cx="1305.7" cy="96.0" r="3.8"/>
<circle cx="1309.0" cy="96.0" r="3.8"/>
<circle cx="1312.6" cy="95.8" r="3.8"/>
<circle cx="1316.3" cy="95.6" r="3.8"/>
<circle cx="1319.9" cy="95.4" r="3.8"/>
<circle cx="1322.3" cy="100.2" r="3.8"/>
<circle cx="1325.4" cy="100.2" r="3.8"/>
<circle cx="1328.6" cy="100.2" r="3.8"/>
<circle cx="1331.7" cy="100.2" r="3.8"/>
<circle cx="1334.9" cy="100.2" r="3.8"/>
<circle cx="1338.0" cy="100.2" r="3.8"/>
<circle cx="1340.5" cy="104.5" r="3.8"/>
<circle cx="1343.6" cy="104.5" r="3.8"/>
<circle cx="1346.8" cy="104.5" r="3.8"/>
<circle cx="1349.9" cy="104.5" r="3.8"/>
<circle cx="1353.1" cy="104.5" r="3.8"/>
<circle cx="1356.2" cy="104.5" r="3.8"/>
<circle cx="1359.8" cy="108.7" r="3.8"/>
<circle cx="1363.0" cy="108.7" r="3.8"/>
<circle cx="1366.3" cy="108.7" r="3.8"/>
<circle cx="1369.5" cy="108.7" r="3.8"/>
<circle cx="1372.7" cy="108.7" r="3.8"/>
<circle cx="1376.0" cy="108.7" r="3.8"/>
<circle cx="1379.2" cy="108.7" r="3.8"/>
<circle cx="1381.6" cy="112.9" r="3.8"/>
<circle cx="1384.5" cy="112.9" r="3.8"/>
<circle cx="1387.3" cy="112.9" r="3.8"/>
<circle cx="1390.2" cy="112.9" r="3.8"/>
<circle cx="1393.1" cy="112.9" r="3.8"/>
<circle cx="1396.1" cy="117.8" r="3.8"/>
<circle cx="1399.7" cy="118.2" r="3.8"/>
<circle cx="1403.4" cy="118.6" r="3.8"/>
<circle cx="1407.0" cy="119.0" r="3.8"/>
<circle cx="1410.0" cy="119.5" r="3.8"/>
<circle cx="1413.0" cy="120.0" r="3.8"/>
<circle cx="1416.0" cy="120.5" r="3.8"/>
<circle cx="1419.1" cy="121.0" r="3.8"/>
<circle cx="1422.1" cy="121.5" r="3.8"/>
<circle cx="1425.1" cy="122.0" r="3.8"/>
<circle cx="1428.4" cy="122.1" r="3.8"/>
<circle cx="1431.8" cy="122.1" r="3.8"/>
<circle cx="1435.1" cy="122.2" r="3.8"/>
<circle cx="1438.4" cy="122.2" r="3.8"/>
<circle cx="1441.8" cy="122.3" r="3.8"/>
<circle cx="1445.1" cy="122.4" r="3.8"/>
<circle cx="1448.4" cy="122.4" r="3.8"/>
<circle cx="1451.7" cy="122.5" r="3.8"/>
<circle cx="1455.1" cy="122.5" r="3.8"/>
<circle cx="1458.4" cy="122.6" r="3.8"/>
<circle cx="1135.1" cy="287.9" r="3.8"/>
<circle cx="1141.1" cy="286.7" r="3.8"/>
<circle cx="1145.9" cy="286.1" r="3.8"/>
<circle cx="1150.8" cy="285.5" r="3.8"/>
<circle cx="1156.8" cy="283.7" r="3.8"/>
<circle cx="1161.7" cy="282.5" r="3.8"/>
<circle cx="1167.7" cy="280.0" r="3.8"/>
<circle cx="1172.6" cy="278.2" r="3.8"/>
<circle cx="1178.0" cy="273.4" r="3.8"/>
<circle cx="1183.4" cy="266.7" r="3.8"/>
<circle cx="1187.1" cy="260.1" r="3.8"/>
<circle cx="1191.9" cy="253.4" r="3.8"/>
<circle cx="1196.7" cy="245.0" r="3.8"/>
<circle cx="1199.2" cy="240.1" r="3.8"/>
<circle cx="1204.0" cy="234.1" r="3.8"/>
<circle cx="1205.8" cy="230.5" r="3.8"/>
<circle cx="1209.4" cy="224.4" r="3.8"/>
<circle cx="1211.9" cy="220.8" r="3.8"/>
<circle cx="1216.7" cy="216.0" r="3.8"/>
<circle cx="1220.9" cy="212.9" r="3.8"/>
<circle cx="1226.4" cy="208.7" r="3.8"/>
<circle cx="1231.8" cy="205.1" r="3.8"/>
<circle cx="1237.2" cy="199.0" r="3.8"/>
<circle cx="1241.5" cy="196.0" r="3.8"/>
<circle cx="1245.1" cy="193.0" r="3.8"/>
<circle cx="1249.3" cy="190.0" r="3.8"/>
<circle cx="1254.2" cy="187.5" r="3.8"/>
<circle cx="1260.2" cy="186.3" r="3.8"/>
<circle cx="1263.8" cy="185.5" r="3.8"/>
<circle cx="1267.2" cy="185.9" r="3.8"/>
<circle cx="1270.5" cy="186.3" r="3.8"/>
<circle cx="1273.5" cy="187.5" r="3.8"/>
<circle cx="1278.4" cy="188.1" r="3.8"/>
<circle cx="1281.7" cy="188.7" r="3.8"/>
<circle cx="1285.0" cy="189.3" r="3.8"/>
<circle cx="1288.0" cy="191.2" r="3.8"/>
<circle cx="1292.4" cy="189.3" r="3.8"/>
<circle cx="1297.9" cy="188.7" r="3.8"/>
<circle cx="1302.1" cy="186.9" r="3.8"/>
<circle cx="1306.3" cy="186.6" r="3.8"/>
<circle cx="1310.6" cy="186.3" r="3.8"/>
<circle cx="1314.8" cy="182.7" r="3.8"/>
<circle cx="1318.1" cy="182.7" r="3.8"/>
<circle cx="1321.4" cy="182.7" r="3.8"/>
<circle cx="1327.5" cy="182.7" r="3.8"/>
<circle cx="1331.7" cy="184.5" r="3.8"/>
<circle cx="1335.1" cy="185.1" r="3.8"/>
<circle cx="1338.4" cy="185.7" r="3.8"/>
<circle cx="1342.0" cy="187.5" r="3.8"/>
<circle cx="1346.8" cy="191.2" r="3.8"/>
<circle cx="1349.9" cy="193.0" r="3.8"/>
<circle cx="1353.2" cy="195.1" r="3.8"/>
<circle cx="1356.5" cy="197.2" r="3.8"/>
<circle cx="1358.3" cy="200.2" r="3.8"/>
<circle cx="1362.6" cy="203.9" r="3.8"/>
<circle cx="1367.4" cy="208.7" r="3.8"/>
<circle cx="1372.2" cy="212.9" r="3.8"/>
<circle cx="1376.5" cy="217.2" r="3.8"/>
<circle cx="1380.7" cy="223.8" r="3.8"/>
<circle cx="1383.7" cy="227.4" r="3.8"/>
<circle cx="1387.9" cy="235.3" r="3.8"/>
<circle cx="1391.6" cy="242.6" r="3.8"/>
<circle cx="1397.0" cy="249.8" r="3.8"/>
<circle cx="1398.2" cy="253.4" r="3.8"/>
<circle cx="1402.5" cy="260.7" r="3.8"/>
<circle cx="1404.9" cy="265.5" r="3.8"/>
<circle cx="1407.9" cy="269.2" r="3.8"/>
<circle cx="1412.1" cy="273.4" r="3.8"/>
<circle cx="1415.8" cy="277.6" r="3.8"/>
<circle cx="1421.2" cy="281.2" r="3.8"/>
<circle cx="1426.0" cy="282.5" r="3.8"/>
<circle cx="1431.5" cy="285.5" r="3.8"/>
<circle cx="1435.7" cy="286.1" r="3.8"/>
<circle cx="1439.9" cy="286.7" r="3.8"/>
<circle cx="1446.0" cy="287.9" r="3.8"/>
<circle cx="1452.0" cy="288.5" r="3.8"/>
<circle cx="1457.5" cy="289.7" r="3.8"/>
<circle cx="1136.4" cy="448.0" r="3.8"/>
<circle cx="1139.8" cy="447.6" r="3.8"/>
<circle cx="1143.1" cy="447.1" r="3.8"/>
<circle cx="1147.4" cy="446.3" r="3.8"/>
<circle cx="1153.3" cy="443.7" r="3.8"/>
<circle cx="1156.7" cy="442.0" r="3.8"/>
<circle cx="1160.1" cy="440.4" r="3.8"/>
<circle cx="1165.1" cy="437.0" r="3.8"/>
<circle cx="1168.5" cy="435.3" r="3.8"/>
<circle cx="1171.9" cy="433.6" r="3.8"/>
<circle cx="1176.1" cy="428.5" r="3.8"/>
<circle cx="1180.4" cy="423.4" r="3.8"/>
<circle cx="1184.6" cy="419.2" r="3.8"/>
<circle cx="1188.8" cy="413.3" r="3.8"/>
<circle cx="1193.1" cy="409.0" r="3.8"/>
<circle cx="1195.6" cy="402.3" r="3.8"/>
<circle cx="1199.8" cy="395.5" r="3.8"/>
<circle cx="1202.4" cy="389.6" r="3.8"/>
<circle cx="1204.9" cy="383.7" r="3.8"/>
<circle cx="1208.3" cy="377.7" r="3.8"/>
<circle cx="1211.7" cy="372.7" r="3.8"/>
<circle cx="1215.1" cy="365.9" r="3.8"/>
<circle cx="1218.4" cy="360.8" r="3.8"/>
<circle cx="1221.0" cy="352.4" r="3.8"/>
<circle cx="1225.2" cy="345.6" r="3.8"/>
<circle cx="1226.9" cy="339.7" r="3.8"/>
<circle cx="1230.3" cy="332.9" r="3.8"/>
<circle cx="1234.5" cy="325.3" r="3.8"/>
<circle cx="1240.4" cy="316.8" r="3.8"/>
<circle cx="1245.5" cy="309.2" r="3.8"/>
<circle cx="1248.9" cy="304.1" r="3.8"/>
<circle cx="1253.1" cy="297.4" r="3.8"/>
<circle cx="1258.2" cy="292.3" r="3.8"/>
<circle cx="1261.6" cy="288.1" r="3.8"/>
<circle cx="1265.0" cy="283.8" r="3.8"/>
<circle cx="1268.3" cy="279.6" r="3.8"/>
<circle cx="1271.7" cy="275.4" r="3.8"/>
<circle cx="1276.0" cy="272.4" r="3.8"/>
<circle cx="1280.2" cy="269.5" r="3.8"/>
<circle cx="1284.0" cy="268.2" r="3.8"/>
<circle cx="1287.8" cy="266.9" r="3.8"/>
<circle cx="1291.4" cy="266.5" r="3.8"/>
<circle cx="1295.1" cy="266.1" r="3.8"/>
<circle cx="1298.4" cy="266.5" r="3.8"/>
<circle cx="1301.8" cy="266.9" r="3.8"/>
<circle cx="1305.2" cy="267.4" r="3.8"/>
<circle cx="1308.6" cy="267.8" r="3.8"/>
<circle cx="1312.0" cy="270.3" r="3.8"/>
<circle cx="1315.4" cy="272.8" r="3.8"/>
<circle cx="1319.6" cy="275.4" r="3.8"/>
<circle cx="1323.8" cy="280.5" r="3.8"/>
<circle cx="1327.2" cy="284.7" r="3.8"/>
<circle cx="1330.6" cy="288.9" r="3.8"/>
<circle cx="1334.8" cy="295.7" r="3.8"/>
<circle cx="1339.9" cy="302.5" r="3.8"/>
<circle cx="1341.6" cy="307.5" r="3.8"/>
<circle cx="1347.5" cy="312.6" r="3.8"/>
<circle cx="1350.9" cy="316.8" r="3.8"/>
<circle cx="1356.0" cy="322.8" r="3.8"/>
<circle cx="1359.4" cy="327.8" r="3.8"/>
<circle cx="1361.9" cy="336.3" r="3.8"/>
<circle cx="1365.3" cy="343.1" r="3.8"/>
<circle cx="1368.7" cy="349.8" r="3.8"/>
<circle cx="1372.9" cy="356.6" r="3.8"/>
<circle cx="1375.4" cy="361.7" r="3.8"/>
<circle cx="1378.8" cy="368.4" r="3.8"/>
<circle cx="1383.1" cy="374.4" r="3.8"/>
<circle cx="1386.4" cy="382.8" r="3.8"/>
<circle cx="1390.7" cy="390.4" r="3.8"/>
<circle cx="1394.1" cy="397.2" r="3.8"/>
<circle cx="1398.3" cy="404.8" r="3.8"/>
<circle cx="1401.7" cy="407.4" r="3.8"/>
<circle cx="1405.1" cy="409.9" r="3.8"/>
<circle cx="1407.6" cy="417.5" r="3.8"/>
<circle cx="1411.8" cy="424.3" r="3.8"/>
<circle cx="1416.9" cy="428.5" r="3.8"/>
<circle cx="1422.8" cy="432.7" r="3.8"/>
<circle cx="1428.7" cy="437.0" r="3.8"/>
<circle cx="1432.1" cy="439.1" r="3.8"/>
<circle cx="1435.5" cy="441.2" r="3.8"/>
<circle cx="1439.8" cy="444.1" r="3.8"/>
<circle cx="1444.0" cy="447.1" r="3.8"/>
<circle cx="1447.3" cy="448.4" r="3.8"/>
<circle cx="1450.7" cy="449.7" r="3.8"/>
<circle cx="1454.1" cy="450.5" r="3.8"/>
<circle cx="1457.5" cy="451.4" r="3.8"/>
<path d="M1037.00,547.50V537.50M1037.00,36.80V46.80M1123.00,547.50V537.50M1123.00,36.80V46.80M1209.00,547.50V537.50M1209.00,36.80V46.80M1295.00,547.50V537.50M1295.00,36.80V46.80M1381.00,547.50V537.50M1381.00,36.80V46.80M1467.00,547.50V537.50M1467.00,36.80V46.80M1553.00,547.50V537.50M1553.00,36.80V46.80M951.00,121.90H961.00M1639.00,121.90H1629.00M951.00,207.02H961.00M1639.00,207.02H1629.00M951.00,292.14H961.00M1639.00,292.14H1629.00M951.00,377.26H961.00M1639.00,377.26H1629.00M951.00,462.38H961.00M1639.00,462.38H1629.00" stroke="#000" stroke-width="3.6" fill="none"/>
<rect x="951.00" y="36.80" width="688.00" height="510.70" fill="none" stroke="#000" stroke-width="3.7"/>
<text transform="translate(951.00,577.10) scale(1,1.06)" class="tk" text-anchor="middle">-2.0</text>
<text transform="translate(1037.00,577.10) scale(1,1.06)" class="tk" text-anchor="middle">-1.5</text>
<text transform="translate(1123.00,577.10) scale(1,1.06)" class="tk" text-anchor="middle">-1.0</text>
<text transform="translate(1209.00,577.10) scale(1,1.06)" class="tk" text-anchor="middle">-0.5</text>
<text transform="translate(1295.00,577.10) scale(1,1.06)" class="tk" text-anchor="middle">0.0</text>
<text transform="translate(1381.00,577.10) scale(1,1.06)" class="tk" text-anchor="middle">0.5</text>
<text transform="translate(1467.00,577.10) scale(1,1.06)" class="tk" text-anchor="middle">1.0</text>
<text transform="translate(1553.00,577.10) scale(1,1.06)" class="tk" text-anchor="middle">1.5</text>
<text transform="translate(1639.00,577.10) scale(1,1.06)" class="tk" text-anchor="middle">2.0</text>
<text transform="translate(940.00,44.38) scale(1,1.06)" class="tk" text-anchor="end">0.2</text>
<text transform="translate(940.00,129.50) scale(1,1.06)" class="tk" text-anchor="end">0.0</text>
<text transform="translate(940.00,214.62) scale(1,1.06)" class="tk" text-anchor="end">-0.2</text>
<text transform="translate(940.00,299.74) scale(1,1.06)" class="tk" text-anchor="end">-0.4</text>
<text transform="translate(940.00,384.86) scale(1,1.06)" class="tk" text-anchor="end">-0.6</text>
<text transform="translate(940.00,469.98) scale(1,1.06)" class="tk" text-anchor="end">-0.8</text>
<text transform="translate(940.00,555.10) scale(1,1.06)" class="tk" text-anchor="end">-1.0</text>
<text transform="translate(1479.0,154.4) scale(1,1.0)" class="ann"><tspan font-style="italic">x</tspan>/<tspan font-style="italic">D</tspan>=1.06</text>
<text transform="translate(1480.3,331.1) scale(1,1.0)" class="ann"><tspan font-style="italic">x</tspan>/<tspan font-style="italic">D</tspan>=1.54</text>
<text transform="translate(1482.6,497.2) scale(1,1.0)" class="ann"><tspan font-style="italic">x</tspan>/<tspan font-style="italic">D</tspan>=2.02</text>
<text x="1270.3" y="625.1" class="lab"><tspan font-style="italic">y</tspan>/<tspan font-style="italic">D</tspan></text>
<text transform="translate(851.5,24.0)" class="let">B</text>
<g transform="translate(884.0,344.4) rotate(-90)"><text x="0" y="0" class="lab"><tspan font-style="italic">v</tspan>&#8242;<tspan font-style="italic">v</tspan>&#8242;/<tspan font-style="italic">U</tspan><tspan class="sub" dy="9" dx="-3.7">&#8734;</tspan><tspan class="sup" dy="-23" dx="-1.3">2</tspan></text><line x1="0" y1="-29.5" x2="44.0" y2="-29.5" stroke="#000" stroke-width="2.2"/></g>
<path d="M536.60,832.40 C542.17,832.50 559.43,832.97 570.00,833.00 C580.57,833.03 586.67,832.57 600.00,832.60 C613.33,832.63 635.00,833.08 650.00,833.20 C665.00,833.32 680.32,833.28 690.00,833.30 C699.68,833.32 701.43,833.48 708.10,833.30 C714.77,833.12 723.55,832.92 730.00,832.20 C736.45,831.48 743.13,830.03 746.80,829.00 C750.47,827.97 750.38,827.17 752.00,826.00 C753.62,824.83 755.00,823.25 756.50,822.00 C758.00,820.75 759.75,819.17 761.00,818.50 C762.25,817.83 763.00,817.42 764.00,818.00 C765.00,818.58 766.00,820.67 767.00,822.00 C768.00,823.33 768.67,824.92 770.00,826.00 C771.33,827.08 772.22,827.70 775.00,828.50 C777.78,829.30 780.72,830.22 786.70,830.80 C792.68,831.38 802.83,831.58 810.90,832.00 C818.97,832.42 827.03,833.35 835.10,833.30 C843.17,833.25 851.82,832.12 859.30,831.70 C866.78,831.28 870.50,831.25 880.00,830.80 C889.50,830.35 906.22,829.00 916.30,829.00 C926.38,829.00 933.45,829.78 940.50,830.80 C947.55,831.82 954.17,833.78 958.60,835.10 C963.03,836.42 964.58,837.40 967.10,838.70 C969.62,840.00 971.48,842.90 973.70,842.90 C975.92,842.90 977.88,840.20 980.40,838.70 C982.92,837.20 983.37,835.22 988.80,833.90 C994.23,832.58 1002.92,831.42 1013.00,830.80 C1023.08,830.18 1038.13,830.10 1049.30,830.20 C1060.47,830.30 1068.22,831.17 1080.00,831.40 C1091.78,831.63 1106.50,831.53 1120.00,831.60 C1133.50,831.67 1154.17,831.77 1161.00,831.80" fill="none" stroke="#ff0000" stroke-width="3.6" stroke-linejoin="round" stroke-linecap="butt"/>
<path d="M536.60,978.60 C547.17,978.57 581.10,978.37 600.00,978.40 C618.90,978.43 635.00,978.77 650.00,978.80 C665.00,978.83 680.92,978.53 690.00,978.60 C699.08,978.67 697.83,979.20 704.50,979.20 C711.17,979.20 723.75,979.05 730.00,978.60 C736.25,978.15 739.00,977.60 742.00,976.50 C745.00,975.40 746.33,973.92 748.00,972.00 C749.67,970.08 750.58,967.93 752.00,965.00 C753.42,962.07 754.73,958.58 756.50,954.40 C758.27,950.22 760.68,943.63 762.60,939.90 C764.52,936.17 766.00,934.02 768.00,932.00 C770.00,929.98 772.28,927.08 774.60,927.80 C776.92,928.52 779.47,932.27 781.90,936.30 C784.33,940.33 786.38,946.37 789.20,952.00 C792.02,957.63 795.18,964.67 798.80,970.10 C802.42,975.53 806.87,980.77 810.90,984.60 C814.93,988.43 819.17,990.88 823.00,993.10 C826.83,995.32 829.87,997.50 833.90,997.90 C837.93,998.30 842.97,997.30 847.20,995.50 C851.43,993.70 855.27,990.52 859.30,987.10 C863.33,983.68 867.95,977.73 871.40,975.00 C874.85,972.27 876.75,972.52 880.00,970.70 C883.25,968.88 887.27,965.80 890.90,964.10 C894.53,962.40 898.38,960.90 901.80,960.50 C905.22,960.10 908.18,960.70 911.40,961.70 C914.62,962.70 917.87,964.08 921.10,966.50 C924.33,968.92 927.57,972.57 930.80,976.20 C934.03,979.83 937.28,983.67 940.50,988.30 C943.72,992.93 947.28,999.17 950.10,1004.00 C952.92,1008.83 954.98,1013.67 957.40,1017.30 C959.82,1020.93 962.18,1026.00 964.60,1025.80 C967.02,1025.60 969.88,1019.73 971.90,1016.10 C973.92,1012.47 975.08,1008.03 976.70,1004.00 C978.32,999.97 979.18,996.13 981.60,991.90 C984.02,987.67 986.97,981.02 991.20,978.60 C995.43,976.18 999.33,977.60 1007.00,977.40 C1014.67,977.20 1025.03,977.30 1037.20,977.40 C1049.37,977.50 1066.20,977.97 1080.00,978.00 C1093.80,978.03 1106.50,977.63 1120.00,977.60 C1133.50,977.57 1154.17,977.77 1161.00,977.80" fill="none" stroke="#ff0000" stroke-width="3.6" stroke-linejoin="round" stroke-linecap="butt"/>
<path d="M536.60,1122.00 C547.17,1122.08 581.10,1122.47 600.00,1122.50 C618.90,1122.53 635.00,1122.30 650.00,1122.20 C665.00,1122.10 681.32,1122.07 690.00,1121.90 C698.68,1121.73 697.93,1121.68 702.10,1121.20 C706.27,1120.72 710.35,1120.37 715.00,1119.00 C719.65,1117.63 725.00,1115.67 730.00,1113.00 C735.00,1110.33 740.78,1106.47 745.00,1103.00 C749.22,1099.53 751.37,1097.42 755.30,1092.20 C759.23,1086.98 763.57,1079.15 768.60,1071.70 C773.63,1064.25 781.07,1052.23 785.50,1047.50 C789.93,1042.77 791.77,1043.10 795.20,1043.30 C798.63,1043.50 802.07,1047.10 806.10,1048.70 C810.13,1050.30 815.78,1051.08 819.40,1052.90 C823.02,1054.72 824.38,1056.27 827.80,1059.60 C831.22,1062.93 835.87,1067.47 839.90,1072.90 C843.93,1078.33 847.82,1085.18 852.00,1092.20 C856.18,1099.22 860.85,1107.50 865.00,1115.00 C869.15,1122.50 873.70,1130.88 876.90,1137.20 C880.10,1143.52 881.78,1147.87 884.20,1152.90 C886.62,1157.93 888.78,1162.57 891.40,1167.40 C894.02,1172.23 897.07,1177.67 899.90,1181.90 C902.73,1186.13 905.38,1189.98 908.40,1192.80 C911.42,1195.62 914.38,1196.98 918.00,1198.80 C921.62,1200.62 926.47,1202.48 930.10,1203.70 C933.73,1204.92 936.57,1206.30 939.80,1206.10 C943.03,1205.90 946.48,1204.52 949.50,1202.50 C952.52,1200.48 955.28,1197.43 957.90,1194.00 C960.52,1190.57 962.77,1185.93 965.20,1181.90 C967.63,1177.87 969.88,1174.83 972.50,1169.80 C975.12,1164.77 978.28,1156.13 980.90,1151.70 C983.52,1147.27 985.38,1146.23 988.20,1143.20 C991.02,1140.17 993.98,1136.12 997.80,1133.50 C1001.62,1130.88 1005.85,1129.10 1011.10,1127.50 C1016.35,1125.90 1021.15,1124.82 1029.30,1123.90 C1037.45,1122.98 1048.22,1122.28 1060.00,1122.00 C1071.78,1121.72 1088.62,1122.13 1100.00,1122.20 C1111.38,1122.27 1118.13,1122.28 1128.30,1122.40 C1138.47,1122.52 1155.55,1122.82 1161.00,1122.90" fill="none" stroke="#ff0000" stroke-width="3.6" stroke-linejoin="round" stroke-linecap="butt"/>
<circle cx="712.4" cy="835.7" r="3.8"/>
<circle cx="715.7" cy="835.7" r="3.8"/>
<circle cx="719.0" cy="835.7" r="3.8"/>
<circle cx="722.0" cy="835.4" r="3.8"/>
<circle cx="725.1" cy="835.1" r="3.8"/>
<circle cx="728.1" cy="835.1" r="3.8"/>
<circle cx="731.1" cy="835.1" r="3.8"/>
<circle cx="734.2" cy="835.1" r="3.8"/>
<circle cx="737.2" cy="835.1" r="3.8"/>
<circle cx="740.2" cy="834.8" r="3.8"/>
<circle cx="743.2" cy="834.5" r="3.8"/>
<circle cx="746.2" cy="833.5" r="3.8"/>
<circle cx="749.2" cy="832.6" r="3.8"/>
<circle cx="752.0" cy="830.8" r="3.8"/>
<circle cx="754.7" cy="829.0" r="3.8"/>
<circle cx="759.5" cy="824.2" r="3.8"/>
<circle cx="759.5" cy="819.3" r="3.8"/>
<circle cx="764.4" cy="816.9" r="3.8"/>
<circle cx="767.1" cy="818.1" r="3.8"/>
<circle cx="769.8" cy="819.3" r="3.8"/>
<circle cx="771.0" cy="823.6" r="3.8"/>
<circle cx="775.2" cy="826.0" r="3.8"/>
<circle cx="779.5" cy="830.8" r="3.8"/>
<circle cx="784.3" cy="833.3" r="3.8"/>
<circle cx="787.9" cy="834.5" r="3.8"/>
<circle cx="792.8" cy="836.9" r="3.8"/>
<circle cx="795.8" cy="836.6" r="3.8"/>
<circle cx="798.8" cy="836.3" r="3.8"/>
<circle cx="802.5" cy="838.7" r="3.8"/>
<circle cx="805.5" cy="839.3" r="3.8"/>
<circle cx="808.5" cy="839.9" r="3.8"/>
<circle cx="811.5" cy="839.6" r="3.8"/>
<circle cx="814.5" cy="839.3" r="3.8"/>
<circle cx="817.5" cy="839.6" r="3.8"/>
<circle cx="820.6" cy="839.9" r="3.8"/>
<circle cx="823.6" cy="840.2" r="3.8"/>
<circle cx="826.6" cy="840.5" r="3.8"/>
<circle cx="829.7" cy="840.5" r="3.8"/>
<circle cx="832.7" cy="840.5" r="3.8"/>
<circle cx="837.5" cy="840.5" r="3.8"/>
<circle cx="840.5" cy="839.6" r="3.8"/>
<circle cx="843.6" cy="838.7" r="3.8"/>
<circle cx="846.6" cy="838.4" r="3.8"/>
<circle cx="849.6" cy="838.1" r="3.8"/>
<circle cx="853.2" cy="837.8" r="3.8"/>
<circle cx="856.9" cy="837.5" r="3.8"/>
<circle cx="859.9" cy="837.2" r="3.8"/>
<circle cx="862.9" cy="836.9" r="3.8"/>
<circle cx="867.7" cy="836.3" r="3.8"/>
<circle cx="870.8" cy="836.3" r="3.8"/>
<circle cx="873.8" cy="836.3" r="3.8"/>
<circle cx="876.8" cy="836.0" r="3.8"/>
<circle cx="879.8" cy="835.7" r="3.8"/>
<circle cx="882.4" cy="835.1" r="3.8"/>
<circle cx="887.3" cy="833.9" r="3.8"/>
<circle cx="890.3" cy="833.0" r="3.8"/>
<circle cx="893.3" cy="832.0" r="3.8"/>
<circle cx="898.1" cy="832.0" r="3.8"/>
<circle cx="901.2" cy="832.3" r="3.8"/>
<circle cx="904.2" cy="832.6" r="3.8"/>
<circle cx="907.2" cy="832.6" r="3.8"/>
<circle cx="910.2" cy="832.6" r="3.8"/>
<circle cx="913.2" cy="833.0" r="3.8"/>
<circle cx="916.3" cy="833.3" r="3.8"/>
<circle cx="919.3" cy="833.6" r="3.8"/>
<circle cx="922.3" cy="833.9" r="3.8"/>
<circle cx="925.3" cy="834.5" r="3.8"/>
<circle cx="928.4" cy="835.1" r="3.8"/>
<circle cx="933.2" cy="836.3" r="3.8"/>
<circle cx="936.2" cy="837.2" r="3.8"/>
<circle cx="939.3" cy="838.1" r="3.8"/>
<circle cx="942.3" cy="838.4" r="3.8"/>
<circle cx="945.3" cy="838.7" r="3.8"/>
<circle cx="950.1" cy="840.5" r="3.8"/>
<circle cx="955.0" cy="841.1" r="3.8"/>
<circle cx="959.8" cy="841.7" r="3.8"/>
<circle cx="963.4" cy="844.7" r="3.8"/>
<circle cx="967.1" cy="848.4" r="3.8"/>
<circle cx="970.7" cy="852.0" r="3.8"/>
<circle cx="974.3" cy="855.0" r="3.8"/>
<circle cx="977.3" cy="856.2" r="3.8"/>
<circle cx="982.2" cy="855.0" r="3.8"/>
<circle cx="982.8" cy="850.8" r="3.8"/>
<circle cx="984.6" cy="847.2" r="3.8"/>
<circle cx="986.4" cy="844.7" r="3.8"/>
<circle cx="989.4" cy="841.7" r="3.8"/>
<circle cx="993.1" cy="839.9" r="3.8"/>
<circle cx="995.8" cy="839.3" r="3.8"/>
<circle cx="998.5" cy="838.7" r="3.8"/>
<circle cx="1002.1" cy="838.7" r="3.8"/>
<circle cx="1005.8" cy="838.7" r="3.8"/>
<circle cx="1009.4" cy="838.7" r="3.8"/>
<circle cx="1013.0" cy="838.7" r="3.8"/>
<circle cx="1016.0" cy="838.7" r="3.8"/>
<circle cx="1019.1" cy="838.7" r="3.8"/>
<circle cx="1022.1" cy="838.4" r="3.8"/>
<circle cx="1025.1" cy="838.1" r="3.8"/>
<circle cx="1028.3" cy="838.1" r="3.8"/>
<circle cx="1031.6" cy="838.1" r="3.8"/>
<circle cx="1034.8" cy="838.1" r="3.8"/>
<circle cx="708.7" cy="981.0" r="3.8"/>
<circle cx="714.2" cy="980.8" r="3.8"/>
<circle cx="719.0" cy="980.4" r="3.8"/>
<circle cx="723.9" cy="979.8" r="3.8"/>
<circle cx="728.7" cy="979.8" r="3.8"/>
<circle cx="734.1" cy="979.2" r="3.8"/>
<circle cx="739.6" cy="978.6" r="3.8"/>
<circle cx="743.2" cy="977.4" r="3.8"/>
<circle cx="746.8" cy="975.6" r="3.8"/>
<circle cx="749.2" cy="971.9" r="3.8"/>
<circle cx="751.7" cy="968.9" r="3.8"/>
<circle cx="755.3" cy="965.9" r="3.8"/>
<circle cx="755.9" cy="959.2" r="3.8"/>
<circle cx="761.3" cy="955.0" r="3.8"/>
<circle cx="761.9" cy="949.6" r="3.8"/>
<circle cx="763.2" cy="944.7" r="3.8"/>
<circle cx="766.2" cy="936.9" r="3.8"/>
<circle cx="766.8" cy="929.6" r="3.8"/>
<circle cx="770.4" cy="926.0" r="3.8"/>
<circle cx="771.6" cy="920.6" r="3.8"/>
<circle cx="776.5" cy="916.3" r="3.8"/>
<circle cx="780.1" cy="917.5" r="3.8"/>
<circle cx="783.1" cy="921.8" r="3.8"/>
<circle cx="786.1" cy="924.8" r="3.8"/>
<circle cx="787.3" cy="930.2" r="3.8"/>
<circle cx="791.6" cy="933.3" r="3.8"/>
<circle cx="793.4" cy="937.5" r="3.8"/>
<circle cx="794.6" cy="941.7" r="3.8"/>
<circle cx="795.8" cy="946.0" r="3.8"/>
<circle cx="800.0" cy="951.4" r="3.8"/>
<circle cx="801.2" cy="956.8" r="3.8"/>
<circle cx="804.3" cy="960.5" r="3.8"/>
<circle cx="806.1" cy="964.1" r="3.8"/>
<circle cx="807.9" cy="967.7" r="3.8"/>
<circle cx="810.3" cy="971.3" r="3.8"/>
<circle cx="814.5" cy="976.2" r="3.8"/>
<circle cx="818.2" cy="979.2" r="3.8"/>
<circle cx="821.8" cy="982.2" r="3.8"/>
<circle cx="824.2" cy="984.6" r="3.8"/>
<circle cx="829.1" cy="987.1" r="3.8"/>
<circle cx="832.7" cy="989.5" r="3.8"/>
<circle cx="835.1" cy="986.5" r="3.8"/>
<circle cx="838.2" cy="988.3" r="3.8"/>
<circle cx="841.2" cy="990.1" r="3.8"/>
<circle cx="844.8" cy="989.8" r="3.8"/>
<circle cx="848.4" cy="989.5" r="3.8"/>
<circle cx="851.5" cy="989.2" r="3.8"/>
<circle cx="854.5" cy="988.9" r="3.8"/>
<circle cx="859.3" cy="987.1" r="3.8"/>
<circle cx="864.1" cy="984.6" r="3.8"/>
<circle cx="869.0" cy="982.2" r="3.8"/>
<circle cx="873.8" cy="980.4" r="3.8"/>
<circle cx="878.6" cy="978.0" r="3.8"/>
<circle cx="883.5" cy="976.2" r="3.8"/>
<circle cx="888.4" cy="973.8" r="3.8"/>
<circle cx="891.8" cy="972.2" r="3.8"/>
<circle cx="895.1" cy="970.7" r="3.8"/>
<circle cx="899.7" cy="971.3" r="3.8"/>
<circle cx="904.2" cy="971.9" r="3.8"/>
<circle cx="907.8" cy="972.8" r="3.8"/>
<circle cx="911.4" cy="973.8" r="3.8"/>
<circle cx="916.3" cy="977.4" r="3.8"/>
<circle cx="921.1" cy="981.6" r="3.8"/>
<circle cx="925.3" cy="985.9" r="3.8"/>
<circle cx="928.4" cy="990.7" r="3.8"/>
<circle cx="930.2" cy="994.3" r="3.8"/>
<circle cx="933.2" cy="999.2" r="3.8"/>
<circle cx="935.6" cy="1003.4" r="3.8"/>
<circle cx="940.5" cy="1006.4" r="3.8"/>
<circle cx="942.3" cy="1011.2" r="3.8"/>
<circle cx="943.5" cy="1016.1" r="3.8"/>
<circle cx="945.3" cy="1019.7" r="3.8"/>
<circle cx="946.5" cy="1024.5" r="3.8"/>
<circle cx="948.3" cy="1028.8" r="3.8"/>
<circle cx="951.3" cy="1033.0" r="3.8"/>
<circle cx="953.8" cy="1037.8" r="3.8"/>
<circle cx="956.8" cy="1042.7" r="3.8"/>
<circle cx="959.8" cy="1046.3" r="3.8"/>
<circle cx="963.4" cy="1046.3" r="3.8"/>
<circle cx="967.1" cy="1042.7" r="3.8"/>
<circle cx="970.1" cy="1037.8" r="3.8"/>
<circle cx="971.9" cy="1032.4" r="3.8"/>
<circle cx="973.7" cy="1027.0" r="3.8"/>
<circle cx="974.9" cy="1020.9" r="3.8"/>
<circle cx="977.3" cy="1013.1" r="3.8"/>
<circle cx="980.4" cy="1007.6" r="3.8"/>
<circle cx="982.8" cy="1001.6" r="3.8"/>
<circle cx="985.2" cy="996.7" r="3.8"/>
<circle cx="988.2" cy="992.5" r="3.8"/>
<circle cx="991.2" cy="988.3" r="3.8"/>
<circle cx="994.9" cy="985.2" r="3.8"/>
<circle cx="999.1" cy="983.4" r="3.8"/>
<circle cx="1002.5" cy="982.5" r="3.8"/>
<circle cx="1005.8" cy="981.6" r="3.8"/>
<circle cx="1008.8" cy="981.6" r="3.8"/>
<circle cx="1011.8" cy="981.6" r="3.8"/>
<circle cx="1014.8" cy="981.3" r="3.8"/>
<circle cx="1017.8" cy="981.0" r="3.8"/>
<circle cx="1021.4" cy="981.3" r="3.8"/>
<circle cx="1025.1" cy="981.6" r="3.8"/>
<circle cx="1029.0" cy="981.6" r="3.8"/>
<circle cx="1033.0" cy="981.6" r="3.8"/>
<circle cx="708.7" cy="1118.8" r="3.8"/>
<circle cx="711.5" cy="1118.8" r="3.8"/>
<circle cx="714.2" cy="1118.8" r="3.8"/>
<circle cx="717.5" cy="1117.9" r="3.8"/>
<circle cx="720.8" cy="1117.0" r="3.8"/>
<circle cx="725.1" cy="1115.2" r="3.8"/>
<circle cx="729.9" cy="1112.8" r="3.8"/>
<circle cx="733.5" cy="1110.4" r="3.8"/>
<circle cx="737.8" cy="1107.3" r="3.8"/>
<circle cx="740.8" cy="1105.8" r="3.8"/>
<circle cx="743.8" cy="1104.3" r="3.8"/>
<circle cx="746.8" cy="1100.1" r="3.8"/>
<circle cx="749.9" cy="1094.6" r="3.8"/>
<circle cx="750.5" cy="1091.0" r="3.8"/>
<circle cx="754.1" cy="1087.4" r="3.8"/>
<circle cx="757.1" cy="1082.6" r="3.8"/>
<circle cx="759.5" cy="1080.1" r="3.8"/>
<circle cx="763.2" cy="1075.9" r="3.8"/>
<circle cx="764.4" cy="1071.1" r="3.8"/>
<circle cx="767.4" cy="1066.8" r="3.8"/>
<circle cx="769.8" cy="1062.0" r="3.8"/>
<circle cx="773.4" cy="1057.2" r="3.8"/>
<circle cx="775.9" cy="1052.3" r="3.8"/>
<circle cx="780.1" cy="1047.5" r="3.8"/>
<circle cx="783.1" cy="1041.4" r="3.8"/>
<circle cx="786.7" cy="1038.4" r="3.8"/>
<circle cx="791.6" cy="1033.6" r="3.8"/>
<circle cx="796.4" cy="1030.0" r="3.8"/>
<circle cx="800.0" cy="1028.7" r="3.8"/>
<circle cx="803.4" cy="1028.7" r="3.8"/>
<circle cx="806.7" cy="1028.7" r="3.8"/>
<circle cx="809.7" cy="1029.3" r="3.8"/>
<circle cx="814.5" cy="1031.8" r="3.8"/>
<circle cx="817.5" cy="1032.1" r="3.8"/>
<circle cx="820.6" cy="1032.4" r="3.8"/>
<circle cx="824.2" cy="1036.0" r="3.8"/>
<circle cx="829.1" cy="1041.4" r="3.8"/>
<circle cx="832.7" cy="1045.7" r="3.8"/>
<circle cx="835.1" cy="1048.7" r="3.8"/>
<circle cx="838.7" cy="1052.9" r="3.8"/>
<circle cx="842.4" cy="1058.4" r="3.8"/>
<circle cx="844.8" cy="1063.2" r="3.8"/>
<circle cx="847.2" cy="1068.0" r="3.8"/>
<circle cx="849.6" cy="1072.9" r="3.8"/>
<circle cx="852.0" cy="1080.1" r="3.8"/>
<circle cx="855.7" cy="1086.2" r="3.8"/>
<circle cx="856.9" cy="1093.4" r="3.8"/>
<circle cx="858.1" cy="1099.5" r="3.8"/>
<circle cx="860.5" cy="1106.1" r="3.8"/>
<circle cx="864.1" cy="1113.4" r="3.8"/>
<circle cx="866.5" cy="1118.8" r="3.8"/>
<circle cx="867.7" cy="1123.7" r="3.8"/>
<circle cx="870.2" cy="1130.3" r="3.8"/>
<circle cx="872.7" cy="1136.0" r="3.8"/>
<circle cx="873.3" cy="1142.6" r="3.8"/>
<circle cx="878.1" cy="1146.8" r="3.8"/>
<circle cx="880.6" cy="1152.9" r="3.8"/>
<circle cx="880.6" cy="1157.1" r="3.8"/>
<circle cx="881.8" cy="1163.8" r="3.8"/>
<circle cx="884.8" cy="1171.0" r="3.8"/>
<circle cx="889.0" cy="1174.6" r="3.8"/>
<circle cx="889.6" cy="1181.9" r="3.8"/>
<circle cx="893.3" cy="1186.7" r="3.8"/>
<circle cx="893.9" cy="1191.6" r="3.8"/>
<circle cx="898.1" cy="1197.0" r="3.8"/>
<circle cx="899.3" cy="1200.6" r="3.8"/>
<circle cx="902.3" cy="1204.3" r="3.8"/>
<circle cx="907.2" cy="1210.9" r="3.8"/>
<circle cx="912.0" cy="1215.8" r="3.8"/>
<circle cx="916.2" cy="1218.8" r="3.8"/>
<circle cx="920.2" cy="1220.6" r="3.8"/>
<circle cx="924.1" cy="1222.4" r="3.8"/>
<circle cx="928.0" cy="1223.0" r="3.8"/>
<circle cx="932.6" cy="1223.0" r="3.8"/>
<circle cx="938.0" cy="1223.0" r="3.8"/>
<circle cx="943.4" cy="1219.4" r="3.8"/>
<circle cx="948.3" cy="1216.4" r="3.8"/>
<circle cx="953.1" cy="1213.3" r="3.8"/>
<circle cx="956.7" cy="1209.1" r="3.8"/>
<circle cx="960.4" cy="1205.5" r="3.8"/>
<circle cx="962.8" cy="1200.6" r="3.8"/>
<circle cx="965.2" cy="1196.4" r="3.8"/>
<circle cx="967.6" cy="1191.6" r="3.8"/>
<circle cx="968.8" cy="1186.7" r="3.8"/>
<circle cx="971.2" cy="1181.9" r="3.8"/>
<circle cx="974.3" cy="1177.7" r="3.8"/>
<circle cx="976.7" cy="1174.6" r="3.8"/>
<circle cx="979.1" cy="1170.4" r="3.8"/>
<circle cx="983.9" cy="1166.2" r="3.8"/>
<circle cx="987.6" cy="1163.2" r="3.8"/>
<circle cx="991.8" cy="1158.9" r="3.8"/>
<circle cx="994.2" cy="1154.1" r="3.8"/>
<circle cx="997.8" cy="1149.3" r="3.8"/>
<circle cx="1001.5" cy="1144.4" r="3.8"/>
<circle cx="1005.1" cy="1140.8" r="3.8"/>
<circle cx="1009.9" cy="1137.8" r="3.8"/>
<circle cx="1014.8" cy="1135.3" r="3.8"/>
<circle cx="1019.6" cy="1132.9" r="3.8"/>
<circle cx="1022.3" cy="1132.9" r="3.8"/>
<circle cx="1025.1" cy="1132.9" r="3.8"/>
<circle cx="1028.1" cy="1131.4" r="3.8"/>
<circle cx="1031.1" cy="1129.9" r="3.8"/>
<path d="M611.79,1271.40V1261.40M611.79,762.05V772.05M697.58,1271.40V1261.40M697.58,762.05V772.05M783.36,1271.40V1261.40M783.36,762.05V772.05M869.15,1271.40V1261.40M869.15,762.05V772.05M954.94,1271.40V1261.40M954.94,762.05V772.05M1040.72,1271.40V1261.40M1040.72,762.05V772.05M1126.51,1271.40V1261.40M1126.51,762.05V772.05M526.00,834.81H536.00M1212.30,834.81H1202.30M526.00,907.57H536.00M1212.30,907.57H1202.30M526.00,980.34H536.00M1212.30,980.34H1202.30M526.00,1053.10H536.00M1212.30,1053.10H1202.30M526.00,1125.87H536.00M1212.30,1125.87H1202.30M526.00,1198.63H536.00M1212.30,1198.63H1202.30" stroke="#000" stroke-width="3.6" fill="none"/>
<rect x="526.00" y="762.05" width="686.30" height="509.35" fill="none" stroke="#000" stroke-width="3.7"/>
<text transform="translate(526.00,1301.00) scale(1,1.06)" class="tk" text-anchor="middle">-2.0</text>
<text transform="translate(611.79,1301.00) scale(1,1.06)" class="tk" text-anchor="middle">-1.5</text>
<text transform="translate(697.58,1301.00) scale(1,1.06)" class="tk" text-anchor="middle">-1.0</text>
<text transform="translate(783.36,1301.00) scale(1,1.06)" class="tk" text-anchor="middle">-0.5</text>
<text transform="translate(869.15,1301.00) scale(1,1.06)" class="tk" text-anchor="middle">0.0</text>
<text transform="translate(954.94,1301.00) scale(1,1.06)" class="tk" text-anchor="middle">0.5</text>
<text transform="translate(1040.72,1301.00) scale(1,1.06)" class="tk" text-anchor="middle">1.0</text>
<text transform="translate(1126.51,1301.00) scale(1,1.06)" class="tk" text-anchor="middle">1.5</text>
<text transform="translate(1212.30,1301.00) scale(1,1.06)" class="tk" text-anchor="middle">2.0</text>
<text transform="translate(514.80,769.65) scale(1,1.06)" class="tk" text-anchor="end">0.1</text>
<text transform="translate(514.80,842.41) scale(1,1.06)" class="tk" text-anchor="end">0.0</text>
<text transform="translate(514.80,915.17) scale(1,1.06)" class="tk" text-anchor="end">-0.1</text>
<text transform="translate(514.80,987.94) scale(1,1.06)" class="tk" text-anchor="end">-0.2</text>
<text transform="translate(514.80,1060.70) scale(1,1.06)" class="tk" text-anchor="end">-0.3</text>
<text transform="translate(514.80,1133.47) scale(1,1.06)" class="tk" text-anchor="end">-0.4</text>
<text transform="translate(514.80,1206.23) scale(1,1.06)" class="tk" text-anchor="end">-0.5</text>
<text transform="translate(514.80,1278.99) scale(1,1.06)" class="tk" text-anchor="end">-0.6</text>
<text transform="translate(1054.7,873.6) scale(1,1.0)" class="ann"><tspan font-style="italic">x</tspan>/<tspan font-style="italic">D</tspan>=1.06</text>
<text transform="translate(1056.8,1017.6) scale(1,1.0)" class="ann"><tspan font-style="italic">x</tspan>/<tspan font-style="italic">D</tspan>=1.54</text>
<text transform="translate(1054.1,1158.6) scale(1,1.0)" class="ann"><tspan font-style="italic">x</tspan>/<tspan font-style="italic">D</tspan>=2.02</text>
<text x="842.8" y="1348.7" class="lab"><tspan font-style="italic">y</tspan>/<tspan font-style="italic">D</tspan></text>
<text transform="translate(425.3,733.0)" class="let">C</text>
<g transform="translate(458.6,1069.2) rotate(-90)"><text x="0" y="0" class="lab"><tspan font-style="italic">u</tspan>&#8242;<tspan font-style="italic">v</tspan>&#8242;/<tspan font-style="italic">U</tspan><tspan class="sub" dy="9" dx="-3.7">&#8734;</tspan><tspan class="sup" dy="-23" dx="-1.3">2</tspan></text><line x1="0" y1="-29.5" x2="44.5" y2="-29.5" stroke="#000" stroke-width="2.2"/></g>
</svg>
</body></html>
